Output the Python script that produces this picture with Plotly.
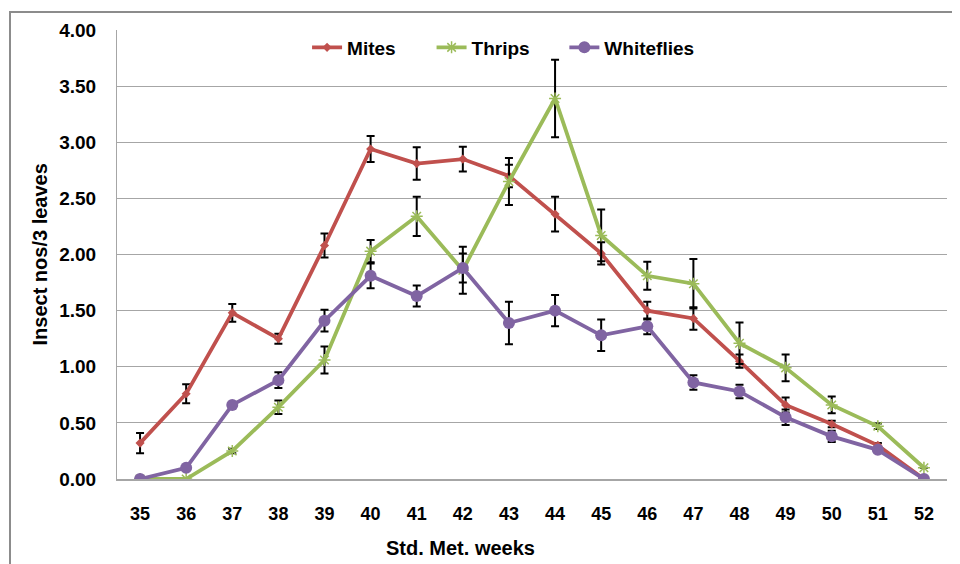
import plotly.graph_objects as go

weeks = list(range(35, 53))

mites = [0.32, 0.76, 1.48, 1.25, 2.08, 2.94, 2.81, 2.85, 2.70, 2.36, 2.01, 1.50, 1.43, 1.05, 0.66, 0.49, 0.30, 0.00]
mites_err = [0.09, 0.085, 0.08, 0.045, 0.107, 0.115, 0.145, 0.11, 0.10, 0.155, 0.10, 0.08, 0.10, 0.06, 0.067, 0.03, 0.02, 0.0]

thrips = [0.00, 0.00, 0.25, 0.64, 1.06, 2.03, 2.34, 1.86, 2.65, 3.39, 2.17, 1.81, 1.74, 1.21, 0.99, 0.66, 0.47, 0.10]
thrips_err = [0.0, 0.0, 0.02, 0.06, 0.12, 0.10, 0.175, 0.21, 0.21, 0.345, 0.23, 0.125, 0.22, 0.185, 0.12, 0.074, 0.025, 0.0]

whiteflies = [0.00, 0.10, 0.66, 0.88, 1.41, 1.81, 1.63, 1.88, 1.39, 1.50, 1.28, 1.36, 0.86, 0.78, 0.55, 0.38, 0.26, 0.00]
whiteflies_err = [0.0, 0.0, 0.0, 0.07, 0.097, 0.11, 0.094, 0.13, 0.19, 0.14, 0.14, 0.07, 0.064, 0.06, 0.07, 0.05, 0.02, 0.0]

y_ticks = [0, 0.5, 1.0, 1.5, 2.0, 2.5, 3.0, 3.5, 4.0]

FONT = "Liberation Sans, Arial, sans-serif"

fig = go.Figure()

def add(name, y, err, color, symbol, msize, legend, mline=0):
    fig.add_trace(go.Scatter(
        x=weeks, y=y, name=f"<b>{name}</b>", mode="lines+markers",
        line=dict(color=color, width=3.8),
        marker=dict(symbol=symbol, size=msize, color=color,
                    line=dict(color=color, width=mline)),
        error_y=dict(type="data", array=err, visible=True,
                     color="black", thickness=2, width=4),
        legend=legend,
    ))

add("Mites", mites, mites_err, "#C0504D", "diamond", 7, "legend")
add("Thrips", thrips, thrips_err, "#9BBB59", "asterisk-open", 10, "legend2", 1.5)
add("Whiteflies", whiteflies, whiteflies_err, "#8064A2", "circle", 12, "legend3")

def leg(x):
    return dict(orientation="h", x=x, xanchor="left", y=0.961, yanchor="middle",
                font=dict(family=FONT, size=19, color="black"),
                bgcolor="rgba(0,0,0,0)", borderwidth=0)

fig.update_layout(
    width=952, height=556,
    margin=dict(l=109, r=13, t=22, b=85),
    paper_bgcolor="white", plot_bgcolor="white",
    font=dict(family=FONT, size=18, color="black"),
    showlegend=True,
    legend=leg(0.229),
    legend2=leg(0.379),
    legend3=leg(0.539),
    xaxis=dict(
        range=[34.5, 52.5], tickmode="array", tickvals=weeks,
        ticktext=[f"<b>{w}</b>" for w in weeks],
        showgrid=False, zeroline=False,
        showline=True, linecolor="#A6A6A6", linewidth=2,
        ticks="", ticklabelstandoff=17,
        tickfont=dict(family=FONT, size=18, color="black"),
        automargin=False,
    ),
    yaxis=dict(
        range=[0, 4.0], tickmode="array", tickvals=y_ticks,
        ticktext=[f"<b>{v:.2f}</b>" for v in y_ticks],
        showgrid=True, gridcolor="#A6A6A6", gridwidth=1,
        zeroline=False, showline=True, linecolor="#A6A6A6", linewidth=1,
        ticks="", ticklabelstandoff=16,
        tickfont=dict(family=FONT, size=19, color="black"),
        automargin=False,
    ),
)

# axis titles
fig.add_annotation(text="<b>Std. Met. weeks</b>", xref="paper", yref="paper",
                   x=(452 - 109) / 830, y=-(548 - 8 - 471) / 449, xanchor="center", yanchor="middle",
                   showarrow=False, font=dict(family=FONT, size=20, color="black"))
fig.add_annotation(text="<b>Insect nos/3 leaves</b>", xref="paper", yref="paper",
                   x=(31 - 109) / 830, y=0.5, xanchor="center", yanchor="middle", textangle=-90,
                   showarrow=False, font=dict(family=FONT, size=20, color="black"))

# outer chart-area border (extends beyond the visible canvas on right/bottom)
fig.add_shape(type="rect", xref="paper", yref="paper",
              x0=(2 - 109) / 830, x1=1.2, y0=-0.4, y1=1 + (22 - 4) / 449,
              line=dict(color="#8C8C8C", width=2), fillcolor="rgba(0,0,0,0)", layer="below")

fig.write_html("out.html")
